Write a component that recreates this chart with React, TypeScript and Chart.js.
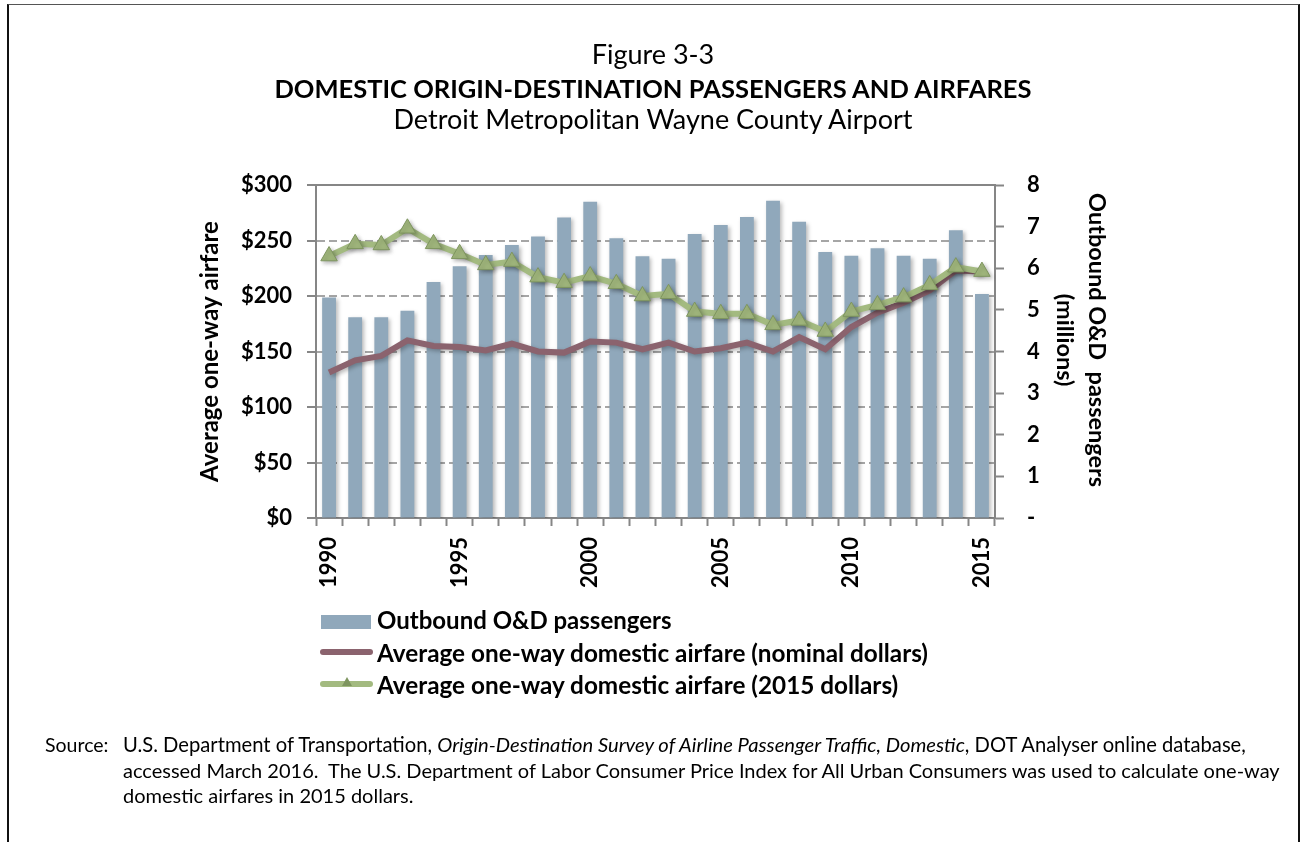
import React, { useEffect, useRef } from "react";
import { Chart, registerables } from "chart.js";

Chart.register(...registerables);

// ---------- data ----------
const years = [
  "1990", "1991", "1992", "1993", "1994", "1995", "1996", "1997", "1998", "1999",
  "2000", "2001", "2002", "2003", "2004", "2005", "2006", "2007", "2008", "2009",
  "2010", "2011", "2012", "2013", "2014", "2015",
];
// Outbound O&D passengers (millions)
const passengersMillions = [
  5.30, 4.82, 4.82, 4.98, 5.67, 6.05, 6.32, 6.56, 6.76, 7.22,
  7.60, 6.72, 6.29, 6.23, 6.82, 7.04, 7.23, 7.62, 7.12, 6.39,
  6.30, 6.48, 6.30, 6.23, 6.91, 5.38,
];
// Average one-way domestic airfare (nominal dollars)
const fareNominal = [
  131, 142, 146, 160, 155, 154, 151, 157, 150, 149,
  159, 158, 152, 158, 150, 153, 158, 150, 163, 152,
  172, 185, 194, 205, 223, 222,
];
// Average one-way domestic airfare (2015 dollars)
const fare2015 = [
  236, 247, 246, 261, 247, 238, 228, 231, 217, 212,
  218, 211, 200, 202, 186, 184, 184, 174, 178, 168,
  186, 192, 199, 210, 226, 222,
];
const labelYears = ["1990", "1995", "2000", "2005", "2010", "2015"];

const seriesNames = [
  "Outbound O&D passengers",
  "Average one-way domestic airfare (nominal dollars)",
  "Average one-way domestic airfare (2015 dollars)",
];

// ---------- style ----------
const FONT = "Lato, 'Open Sans', sans-serif";
const AXIS_GRAY = "#868686";
const GRID_GRAY = "#A6A6A6";
const BAR_COLOR = "#90A8BB";
const NOMINAL_COLOR = "#8B636E";
const REAL_COLOR = "#A3BA80";
const TRI_FILL = "#A0B67C";
const TRI_BORDER = "#7E955F";

const shadowPlugin = {
  id: "softShadow",
  beforeDatasetDraw(chart: any) {
    const ctx = chart.ctx;
    ctx.save();
    ctx.shadowColor = "rgba(0,0,0,0.28)";
    ctx.shadowBlur = 4;
    ctx.shadowOffsetX = 2;
    ctx.shadowOffsetY = 2;
  },
  afterDatasetDraw(chart: any) {
    chart.ctx.restore();
  },
};

const X_AXIS_H = 90;

function ChartCanvas() {
  const ref = useRef<HTMLCanvasElement | null>(null);
  useEffect(() => {
    if (!ref.current) return;
    const tickFont = { family: FONT, size: 22, weight: "bold" as const };
    const chart = new Chart(ref.current, {
      type: "bar",
      data: {
        labels: years,
        datasets: [
          {
            type: "line",
            label: seriesNames[2],
            data: fare2015,
            yAxisID: "y",
            borderColor: REAL_COLOR,
            borderWidth: 6,
            pointStyle: "triangle",
            pointRadius: 9.5,
            pointBackgroundColor: TRI_FILL,
            pointBorderColor: TRI_BORDER,
            pointBorderWidth: 1,
            tension: 0,
            order: 0,
          } as any,
          {
            type: "line",
            label: seriesNames[1],
            data: fareNominal,
            yAxisID: "y",
            borderColor: NOMINAL_COLOR,
            borderWidth: 6,
            pointRadius: 0,
            tension: 0,
            order: 1,
          } as any,
          {
            type: "bar",
            label: seriesNames[0],
            data: passengersMillions,
            yAxisID: "y1",
            backgroundColor: BAR_COLOR,
            borderWidth: 0,
            barPercentage: 0.53,
            categoryPercentage: 1,
            order: 2,
          } as any,
        ],
      },
      options: {
        animation: false,
        responsive: false,
        events: [],
        layout: { padding: { left: 190, right: 183, top: 185, bottom: 842 - 518 - X_AXIS_H } },
        plugins: {
          legend: { display: false },
          title: { display: false },
          tooltip: { enabled: false },
        },
        scales: {
          x: {
            type: "category",
            position: "bottom",
            offset: true,
            grid: {
              offset: true,
              drawOnChartArea: false,
              drawTicks: true,
              tickLength: 8,
              tickWidth: 2,
              tickColor: AXIS_GRAY,
            },
            border: { display: true, color: AXIS_GRAY, width: 2 },
            ticks: {
              autoSkip: false,
              maxRotation: 90,
              minRotation: 90,
              padding: 11,
              color: "#000",
              font: tickFont,
              callback: (_v: any, i: number) =>
                labelYears.includes(years[i]) ? years[i] : "",
            },
            afterFit: (s: any) => {
              s.height = X_AXIS_H;
            },
          } as any,
          xTop: {
            type: "category",
            position: "top",
            offset: true,
            grid: { display: false, drawOnChartArea: false, drawTicks: false },
            border: { display: true, color: AXIS_GRAY, width: 2 },
            ticks: { display: false },
            afterFit: (s: any) => {
              s.height = 0;
            },
          } as any,
          y: {
            position: "left",
            min: 0,
            max: 300,
            ticks: {
              stepSize: 50,
              padding: 15,
              color: "#000",
              font: tickFont,
              callback: (v: any) => "$" + v,
            },
            grid: {
              color: (c: any) => (c.tick && c.tick.value === 0 ? "rgba(0,0,0,0)" : GRID_GRAY),
              lineWidth: 2,
              drawTicks: true,
              tickLength: 9,
              tickWidth: 2,
              tickColor: AXIS_GRAY,
              tickBorderDash: [],
            },
            border: { display: true, color: AXIS_GRAY, width: 2, dash: [8, 4] },
            title: {
              display: true,
              text: "Average one-way airfare",
              color: "#000",
              font: { family: FONT, size: 24, weight: "bold", lineHeight: 1.2 },
              padding: { top: 6, bottom: 0 },
            },
            afterFit: (s: any) => {
              s.width = 126;
            },
          } as any,
          y1: {
            position: "right",
            min: 0,
            max: 8,
            ticks: {
              stepSize: 1,
              padding: 23,
              color: "#000",
              font: tickFont,
              callback: (v: any) => (v === 0 ? "-" : String(v)),
            },
            grid: {
              drawOnChartArea: false,
              drawTicks: true,
              tickLength: 9,
              tickWidth: 2,
              tickColor: AXIS_GRAY,
            },
            border: { display: true, color: AXIS_GRAY, width: 2 },
            title: {
              display: true,
              text: ["Outbound O&D  passengers    ", "(millions)    "],
              color: "#000",
              font: { family: FONT, size: 23.5, weight: "bold", lineHeight: 1.36 },
              padding: { top: 7, bottom: 0 },
            },
            afterFit: (s: any) => {
              s.width = 125;
            },
          } as any,
        },
      },
      plugins: [shadowPlugin],
    });
    return () => chart.destroy();
  }, []);
  return (
    <canvas
      ref={ref}
      width={1303}
      height={842}
      style={{ position: "fixed", left: 0, top: 0, width: 1303, height: 842 }}
    />
  );
}

const txt = (
  left: number | string,
  baseline: number,
  size: number,
  extra: React.CSSProperties = {}
): React.CSSProperties => ({
  position: "fixed",
  left,
  top: baseline - 0.987 * size,
  fontSize: size,
  lineHeight: `${1.2 * size}px`,
  fontFamily: FONT,
  color: "#000",
  whiteSpace: "nowrap",
  margin: 0,
  ...extra,
});

export default function App() {
  return (
    <div style={{ position: "fixed", left: 0, top: 0, width: 1303, height: 842, overflow: "hidden", background: "#fff" }}>
      <div
        style={{
          position: "fixed",
          left: 7,
          top: 4,
          width: 1289,
          height: 900,
          borderTop: "1px solid #555",
          borderLeft: "2px solid #111",
          borderRight: "2px solid #111",
        }}
      />
      <ChartCanvas />
      {/* Titles */}
      <div style={txt(0, 65, 27, { width: 1306, textAlign: "center" })}>Figure 3-3</div>
      <div style={txt(0, 98.3, 25.5, { width: 1306, textAlign: "center", fontWeight: "bold" })}>
        DOMESTIC ORIGIN-DESTINATION PASSENGERS AND AIRFARES
      </div>
      <div style={txt(0, 130, 27, { width: 1306, textAlign: "center" })}>
        Detroit Metropolitan Wayne County Airport
      </div>

      {/* Legend */}
      <div style={{ position: "fixed", left: 321, top: 615, width: 50, height: 14, background: BAR_COLOR }} />
      <div style={txt(377, 629.8, 24, { fontWeight: "bold" })}>{seriesNames[0]}</div>
      <div style={{ position: "fixed", left: 320, top: 649, width: 53, height: 6, borderRadius: 3, background: NOMINAL_COLOR }} />
      <div style={txt(377, 661.5, 24.3, { fontWeight: "bold" })}>{seriesNames[1]}</div>
      <div style={{ position: "fixed", left: 320, top: 681, width: 53, height: 6, borderRadius: 3, background: REAL_COLOR }} />
      <div
        style={{
          position: "fixed",
          left: 342,
          top: 677,
          width: 0,
          height: 0,
          borderLeft: "5px solid transparent",
          borderRight: "5px solid transparent",
          borderBottom: `9px solid ${TRI_BORDER}`,
        }}
      />
      <div style={txt(377, 693.8, 24.3, { fontWeight: "bold" })}>{seriesNames[2]}</div>

      {/* Source */}
      <div style={txt(45, 752, 19.5)}>Source:</div>
      <div style={txt(123, 752, 20.2)}>
        U.S. Department of Transportation, <i>Origin-Destination Survey of Airline Passenger Traffic, Domestic</i>, DOT Analyser online database,
      </div>
      <div style={txt(123, 777.5, 20)}>
        accessed March 2016.&nbsp; The U.S. Department of Labor Consumer Price Index for All Urban Consumers was used to calculate one-way
      </div>
      <div style={txt(123, 803, 20)}>domestic airfares in 2015 dollars.</div>
    </div>
  );
}
